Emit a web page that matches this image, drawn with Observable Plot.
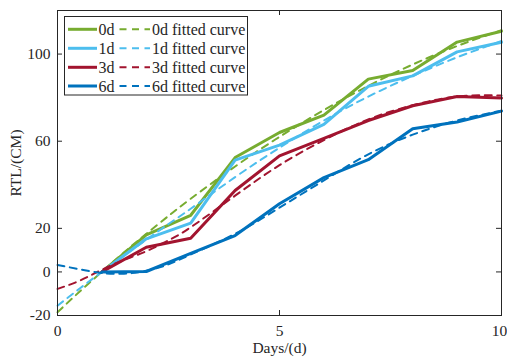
<!DOCTYPE html>
<html><head><meta charset="utf-8">
<script src="https://cdn.jsdelivr.net/npm/d3@7"></script>
<script src="https://cdn.jsdelivr.net/npm/@observablehq/plot@0.6"></script>
<style>body{margin:0;background:#fff}</style>
</head><body><div id="chart"></div>
<script>
const days = [1,2,3,4,5,6,7,8,9,10];
const sol0 = [0,17,26,52.5,64,72,88.5,92.5,105.5,110.5];
const sol1 = [0,15.2,22.4,51.3,58.2,67.7,85.2,90,101,105.4];
const sol3 = [0,11.3,15.5,37.4,53.3,61.3,69.5,76.3,80.5,79.8];
const sol6 = [0,0.2,8.5,16.7,31.3,43.3,51.5,65.7,68.8,73.8];
const fitDays = [0,0.5,1,1.5,2,2.5,3,4,5,6,7,8,9,10];
const fit0 = [-18.5,-9,0.1,9,17.5,25.7,33.6,48.4,62,74.3,85.4,95.2,103.7,111];
const fit1 = [-15.5,-7.6,0,7.5,14.8,22,29,43.5,57,69.5,80.5,90,98.5,106];
const fit3 = [-7.8,-4,1,5.5,9.5,14.5,20.5,35,49,60.5,70,76.5,80.5,81];
const fit6 = [3.2,1.2,-0.5,-0.8,0.5,3.5,8,17.5,29.5,42,54,63,69.5,74];
const seriesNames = ["0d","1d","3d","6d"];
const fitNames = ["0d fitted curve","1d fitted curve","3d fitted curve","6d fitted curve"];
const colors = ["#77AC30","#4DBEEE","#A2142F","#0072BD"];
const xTicks = [0,5,10];
const yTicks = [-20,0,20,60,100];

const sols = [sol0,sol1,sol3,sol6];
const fits = [fit0,fit1,fit3,fit6];

const W=507,H=358,ML=57,MR=6,MT=10,MB=43;
const pw=W-ML-MR, ph=H-MT-MB;
const ink="#262626";
const font="'Liberation Serif','Times New Roman',serif";

const lineMarks = [];
for (let i=0;i<4;i++){
  const s = days.map((d,j)=>({x:d,y:sols[i][j]}));
  const f = fitDays.map((d,j)=>({x:d,y:fits[i][j]}));
  lineMarks.push(Plot.line(s,{x:"x",y:"y",stroke:colors[i],strokeWidth:3}));
  lineMarks.push(Plot.line(f,{x:"x",y:"y",stroke:colors[i],strokeWidth:2,strokeDasharray:"7,5.5",curve:"natural"}));
}

const plot = Plot.plot({
  width:W,height:H,marginLeft:ML,marginRight:MR,marginTop:MT,marginBottom:MB,
  style:{fontFamily:font,fontSize:"15.5px",color:ink,background:"#fff",overflow:"visible"},
  x:{domain:[0,10]},
  y:{domain:[-20,120]},
  marks:[
    Plot.axisX({ticks:xTicks,tickSize:0,tickPadding:9,tickFormat:d=>String(d),label:"Days/(d)",labelAnchor:"center",labelOffset:37,labelArrow:false}),
    Plot.axisY({ticks:yTicks,tickSize:0,tickPadding:7,tickFormat:d=>String(d),label:"RTL/(CM)",labelAnchor:"center",labelOffset:48,labelArrow:false}),
    ...lineMarks,
    Plot.tickY(yTicks,{y:d=>d,stroke:ink,insetRight:pw-5}),
    Plot.tickY(yTicks,{y:d=>d,stroke:ink,insetLeft:pw-5}),
    Plot.tickX(xTicks,{x:d=>d,stroke:ink,insetBottom:ph-5}),
    Plot.tickX(xTicks,{x:d=>d,stroke:ink,insetTop:ph-5}),
    Plot.frame({stroke:ink,strokeWidth:1})
  ]
});
document.getElementById("chart").appendChild(plot);

// nudge the last x tick label so it stays inside the picture
const svg = d3.select(plot);
svg.selectAll("g[aria-label='x-axis tick label'] text").filter(function(){return this.textContent==="10";}).attr("dx",-2);

// legend inside plot area
const g = svg.append("g").attr("font-family",font).attr("font-size",16).attr("fill",ink).attr("text-anchor","start");
g.append("rect").attr("x",64.5).attr("y",16.5).attr("width",183).attr("height",78.5).attr("fill","#fff").attr("stroke",ink).attr("stroke-width",1);
const rowY=[29.3,48.3,67.3,86];
for(let i=0;i<4;i++){
  const y=rowY[i];
  g.append("line").attr("x1",68).attr("x2",97).attr("y1",y).attr("y2",y).attr("stroke",colors[i]).attr("stroke-width",3);
  g.append("text").attr("x",98.5).attr("y",y+5.5).text(seriesNames[i]);
  g.append("line").attr("x1",119.5).attr("x2",150).attr("y1",y).attr("y2",y).attr("stroke",colors[i]).attr("stroke-width",2).attr("stroke-dasharray","7,5.5");
  g.append("text").attr("x",152).attr("y",y+5.5).text(fitNames[i]);
}
</script></body></html>
